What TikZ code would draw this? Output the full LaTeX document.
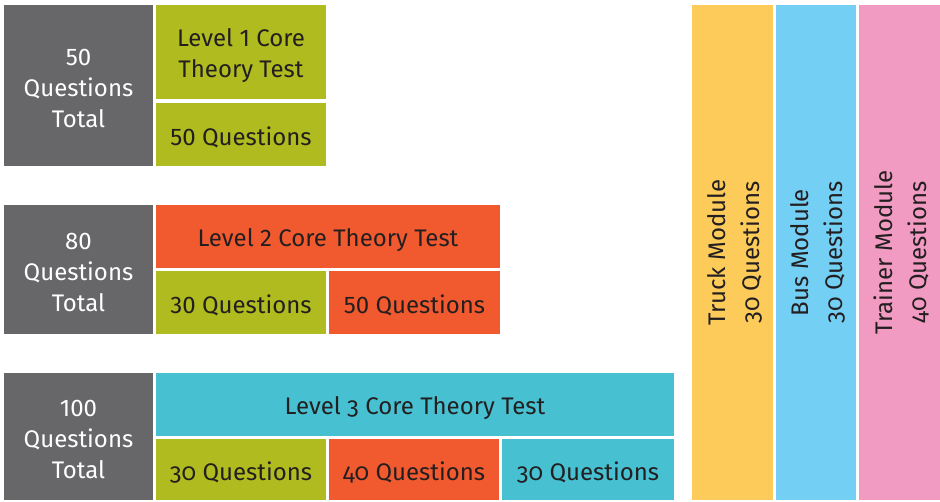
\documentclass[tikz,border=0pt]{standalone}
\usepackage{fontspec}
\setmainfont{Fira Sans}[Numbers=Lining]
\newfontfamily\oldnum{Fira Sans}[Numbers=OldStyle]
\definecolor{cgray}{HTML}{67676A}
\definecolor{cgreen}{HTML}{AFBB1E}
\definecolor{corange}{HTML}{F15A2F}
\definecolor{ccyan}{HTML}{47C1D1}
\definecolor{cyellow}{HTML}{FDCB5A}
\definecolor{cblue}{HTML}{74CFF5}
\definecolor{cpink}{HTML}{F29BC2}
\definecolor{ctext}{HTML}{231F20}
\tikzset{
  cell/.style={anchor=north west, inner sep=0pt, outer sep=0pt, draw=none},
  txt/.style={inner sep=0pt, text=ctext, align=center, font=\fontsize{24}{31}\selectfont},
  otxt/.style={txt, font=\oldnum\fontsize{24}{31}\selectfont},
  wtxt/.style={txt, text=white},
  mtxt/.style={inner sep=0pt, text=ctext, align=center, rotate=90,
    font=\oldnum\fontsize{24}{34}\selectfont}
}
\begin{document}
\begin{tikzpicture}[x=1pt,y=-1pt]
\useasboundingbox[fill=white] (0,0) rectangle (940,501);
% Level 1
\node[cell, fill=cgray, minimum width=149pt, minimum height=161pt] (t1) at (4,5) {};
\node[wtxt] at ([yshift=-3pt]t1.center) {50\\Questions\\Total};
\node[cell, fill=cgreen, minimum width=170pt, minimum height=94pt] (l1) at (156,5) {};
\node[txt] at ([yshift=-4pt]l1.center) {Level 1 Core\\Theory Test};
\node[cell, fill=cgreen, minimum width=170pt, minimum height=63pt] (l1a) at (156,103) {};
\node[txt] at ([yshift=-3pt]l1a.center) {50 Questions};
% Level 2
\node[cell, fill=cgray, minimum width=149pt, minimum height=129pt] (t2) at (4,205) {};
\node[wtxt] at ([yshift=-3pt]t2.center) {80\\Questions\\Total};
\node[cell, fill=corange, minimum width=344pt, minimum height=63pt] (l2) at (156,205) {};
\node[txt] at ([yshift=-4pt]l2.center) {Level 2 Core Theory Test};
\node[cell, fill=cgreen, minimum width=170pt, minimum height=63pt] (l2a) at (156,271) {};
\node[txt] at ([yshift=-3pt]l2a.center) {30 Questions};
\node[cell, fill=corange, minimum width=171pt, minimum height=63pt] (l2b) at (329,271) {};
\node[txt] at ([yshift=-3pt]l2b.center) {50 Questions};
% Level 3
\node[cell, fill=cgray, minimum width=149pt, minimum height=127pt] (t3) at (4,373) {};
\node[wtxt] at ([yshift=-3pt]t3.center) {100\\Questions\\Total};
\node[cell, fill=ccyan, minimum width=518pt, minimum height=63pt] (l3) at (156,373) {};
\node[otxt] at ([yshift=-4pt]l3.center) {Level 3 Core Theory Test};
\node[cell, fill=cgreen, minimum width=170pt, minimum height=61pt] (l3a) at (156,439) {};
\node[otxt] at ([yshift=-3pt]l3a.center) {30 Questions};
\node[cell, fill=corange, minimum width=170pt, minimum height=61pt] (l3b) at (329,439) {};
\node[otxt] at ([yshift=-3pt]l3b.center) {40 Questions};
\node[cell, fill=ccyan, minimum width=172pt, minimum height=61pt] (l3c) at (502,439) {};
\node[otxt] at ([yshift=-3pt]l3c.center) {30 Questions};
% Modules
\node[cell, fill=cyellow, minimum width=81pt, minimum height=495pt] (m1) at (692,5) {};
\node[mtxt] at ([xshift=2pt]m1.center) {Truck Module\\30 Questions};
\node[cell, fill=cblue, minimum width=80pt, minimum height=495pt] (m2) at (776,5) {};
\node[mtxt] at ([xshift=2pt]m2.center) {Bus Module\\30 Questions};
\node[cell, fill=cpink, minimum width=81pt, minimum height=495pt] (m3) at (859,5) {};
\node[mtxt] at ([xshift=2pt]m3.center) {Trainer Module\\40 Questions};
\end{tikzpicture}
\end{document}
